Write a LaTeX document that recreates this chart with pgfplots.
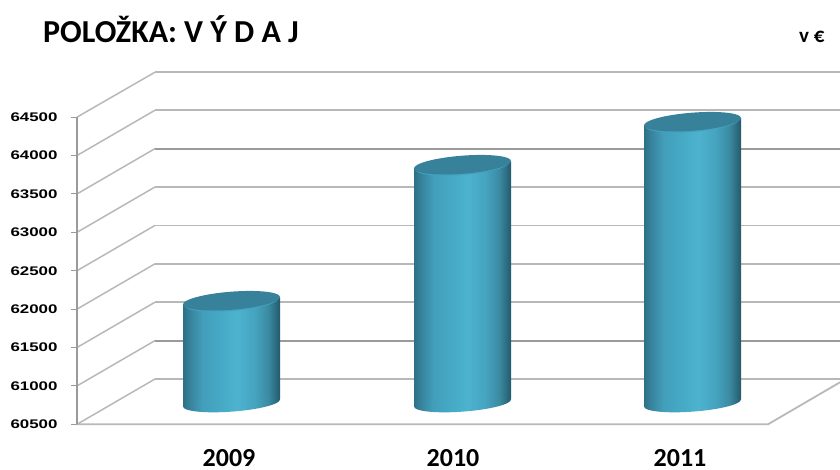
\documentclass[border=0pt]{standalone}
\usepackage{pgfplots}
\pgfplotsset{compat=1.18}
\usepackage{fontspec}
\setmainfont{Carlito}
\newfontfamily\tickf[FakeStretch=1.35]{Liberation Sans}
\definecolor{gridL}{HTML}{B8B8B8}
\definecolor{gridD}{HTML}{9A9A9A}
\definecolor{topC}{HTML}{37819A}
\definecolor{topE}{HTML}{43A2BC}
\pgfdeclarehorizontalshading{cyl}{100bp}{
  rgb(0bp)=(0.18,0.44,0.52);
  rgb(25bp)=(0.18,0.44,0.52);
  rgb(29bp)=(0.22,0.52,0.62);
  rgb(35bp)=(0.26,0.62,0.73);
  rgb(43bp)=(0.27,0.66,0.77);
  rgb(53bp)=(0.30,0.70,0.81);
  rgb(62bp)=(0.27,0.64,0.75);
  rgb(69bp)=(0.23,0.54,0.63);
  rgb(75bp)=(0.14,0.35,0.42);
  rgb(100bp)=(0.14,0.35,0.42)
}
\pgfdeclareplotmark{cylbot}{%
  \pgfpathellipse{\pgfpointorigin}{\pgfpoint{48.5pt}{3.6pt}}{\pgfpoint{-0.7pt}{8.6pt}}%
  \pgfshadepath{cyl}{0}\pgfusepath{discard}}
\pgfdeclareplotmark{cyltop}{%
  \pgfsetfillcolor{topE}%
  \pgfpathellipse{\pgfpoint{0pt}{-0.9pt}}{\pgfpoint{47pt}{3.8pt}}{\pgfpoint{-0.7pt}{9pt}}%
  \pgfusepathqfill
  \pgfsetfillcolor{topC}%
  \pgfpathellipse{\pgfpoint{0pt}{0.3pt}}{\pgfpoint{48.5pt}{3.8pt}}{\pgfpoint{-0.7pt}{9pt}}%
  \pgfusepathqfill}
\begin{document}
\begin{tikzpicture}[x=1pt,y=1pt]
\useasboundingbox (0,0) rectangle (840,469);
\begin{axis}[
  at={(77pt,44.7pt)}, anchor=origin,
  scale only axis, width=763pt, height=352.1pt,
  xmin=77, xmax=840, ymin=60500, ymax=65085,
  clip=false,
  axis line style={draw=none},
  xtick={229,453,680}, xticklabels={2009,2010,2011},
  xtick pos=bottom, ytick pos=left,
  xtick style={draw=none},
  x tick label style={font=\fontsize{26}{26}\selectfont\bfseries, inner sep=0pt, yshift=-19pt},
  ytick={60500,61000,61500,62000,62500,63000,63500,64000,64500},
  tick align=outside, major tick length=6pt,
  ytick style={draw=gridD, line width=1pt},
  y tick label style={font=\tickf\bfseries\fontsize{12.5}{12.5}\selectfont, xshift=-10pt},
  /pgf/number format/assume math mode=true,
  /pgf/number format/1000 sep={},
  scaled y ticks=false,
]
% back wall gridlines
\addplot[gridL, line width=1.5pt, yshift=45.3pt] coordinates {(155,60500) (840,60500)};
\addplot[gridD, line width=2.2pt, yshift=45.3pt] coordinates {(155,61000) (840,61000)};
\addplot[gridL, line width=1.5pt, yshift=45.3pt] coordinates {(155,61500) (840,61500)};
\addplot[gridL, line width=1.5pt, yshift=45.3pt] coordinates {(155,62000) (840,62000)};
\addplot[gridL, line width=1.5pt, yshift=45.3pt] coordinates {(155,62500) (840,62500)};
\addplot[gridL, line width=1.5pt, yshift=45.3pt] coordinates {(155,63000) (840,63000)};
\addplot[gridD, line width=2.2pt, yshift=45.3pt] coordinates {(155,63500) (840,63500)};
\addplot[gridL, line width=1.5pt, yshift=45.3pt] coordinates {(155,64000) (840,64000)};
\addplot[gridL, line width=1.5pt, yshift=45.3pt] coordinates {(155,64500) (840,64500)};
% side wall diagonals
\addplot[gridL, line width=1.5pt] coordinates {(77,60500) (155,61090)};
\addplot[gridL, line width=1.5pt] coordinates {(77,61000) (155,61590)};
\addplot[gridL, line width=1.5pt] coordinates {(77,61500) (155,62090)};
\addplot[gridL, line width=1.5pt] coordinates {(77,62000) (155,62590)};
\addplot[gridL, line width=1.5pt] coordinates {(77,62500) (155,63090)};
\addplot[gridL, line width=1.5pt] coordinates {(77,63000) (155,63590)};
\addplot[gridL, line width=1.5pt] coordinates {(77,63500) (155,64090)};
\addplot[gridL, line width=1.5pt] coordinates {(77,64000) (155,64590)};
\addplot[gridL, line width=1.5pt] coordinates {(77,64500) (155,65085)};
% floor front edge, right diagonal and value axis
\addplot[gridL, line width=1.8pt] coordinates {(77,60500) (768,60500) (840,61047)};
\addplot[gridD, line width=1.8pt] coordinates {(77,60500) (77,64500)};
% cylinders
\addplot[only marks, mark=cylbot, yshift=21.3pt] coordinates {(231.5,60500) (462.5,60500) (692.5,60500)};
\addplot[draw=none, shading=cyl, yshift=21.3pt] coordinates {(183,60451) (183,61779) (280,61877) (280,60549)} -- cycle;
\addplot[draw=none, shading=cyl, yshift=21.3pt] coordinates {(414,60451) (414,63550) (511,63648) (511,60549)} -- cycle;
\addplot[draw=none, shading=cyl, yshift=21.3pt] coordinates {(644,60451) (644,64110) (741,64208) (741,60549)} -- cycle;
\addplot[only marks, mark=cyltop, yshift=21.3pt] coordinates {(231.5,61828) (462.5,63599) (692.5,64159)};
\end{axis}
\node[anchor=west, font=\fontsize{32}{32}\selectfont\bfseries, inner sep=0pt] at (43,439.5) {POLOŽKA: V Ý D A J};
\node[anchor=west, font=\fontsize{21}{21}\selectfont\bfseries, inner sep=0pt] at (799,432) {v €};
\end{tikzpicture}
\end{document}
